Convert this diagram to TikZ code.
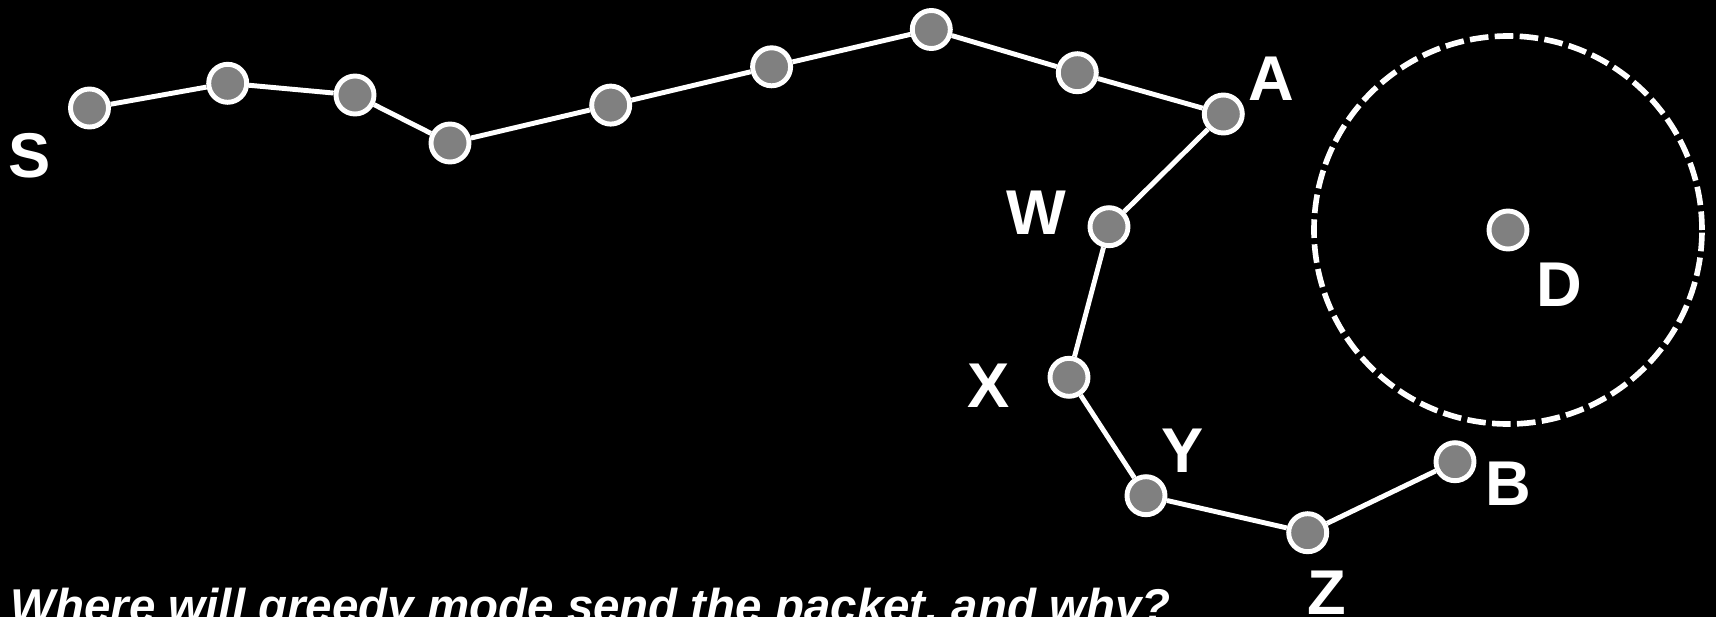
\documentclass[tikz,border=0pt]{standalone}
\usepackage{fontspec}
\setmainfont{Liberation Sans}
\usepackage{xcolor}
\usetikzlibrary{calc, positioning}

\begin{document}
\begin{tikzpicture}[>=latex, scale=1.0,
    diem/.style={circle, draw=white, fill=gray, line width=1.4pt, minimum size=0.38cm, inner sep=0pt},
    canh/.style={white, line width=1.4pt},
    nhan/.style={text=white, inner sep=0pt, font=\fontsize{18}{20}\selectfont\bfseries}]
    % 1. Nền đen
    \fill[black] (0,0) rectangle (17.16,6.17);
    \useasboundingbox (0,0) rectangle (17.16,6.17);

    % 2. Vùng tròn nét đứt quanh D
    \draw[white, line width=1.6pt, dash pattern=on 5.3pt off 1.8pt] (15.08,3.87) circle (1.94);

    % 3. Các nút
    \node[diem] (s)  at (0.895,5.09) {};
    \node[diem] (p1) at (2.277,5.337) {};
    \node[diem] (p2) at (3.55,5.22) {};
    \node[diem] (p3) at (4.50,4.74) {};
    \node[diem] (p4) at (6.107,5.119) {};
    \node[diem] (p5) at (7.716,5.502) {};
    \node[diem] (p6) at (9.313,5.875) {};
    \node[diem] (p7) at (10.773,5.443) {};
    \node[diem] (a)  at (12.233,5.03) {};
    \node[diem] (w)  at (11.09,3.903) {};
    \node[diem] (x)  at (10.69,2.397) {};
    \node[diem] (y)  at (11.46,1.213) {};
    \node[diem] (z)  at (13.077,0.843) {};
    \node[diem] (b)  at (14.55,1.553) {};
    \node[diem] (d)  at (15.08,3.87) {};

    % 4. Đường đi từ S
    \draw[canh] (s) -- (p1) -- (p2) -- (p3) -- (p4) -- (p5) -- (p6) -- (p7) -- (a);
    \draw[canh] (a) -- (w) -- (x) -- (y) -- (z) -- (b);

    % 5. Nhãn các nút
    \node[nhan] (lS) at (0.30,4.61) {S};
    \node[nhan] (lA) at (12.715,5.385) {A};
    \node[nhan] (lW) at (10.365,4.045) {W};
    \node[nhan] (lX) at (9.89,2.315) {X};
    \node[nhan] (lY) at (11.825,1.665) {Y};
    \node[nhan] (lZ) at (13.265,0.245) {Z};
    \node[nhan] (lB) at (15.085,1.335) {B};
    \node[nhan] (lD) at (15.59,3.32) {D};

    % 6. Câu hỏi
    \node[anchor=base west, text=white, inner sep=0pt,
        font=\fontsize{13.5}{16}\selectfont\bfseries\itshape] (cauhoi) at (0.10,-0.05)
        {Where will greedy mode send the packet, and why?};
\end{tikzpicture}
\end{document}
